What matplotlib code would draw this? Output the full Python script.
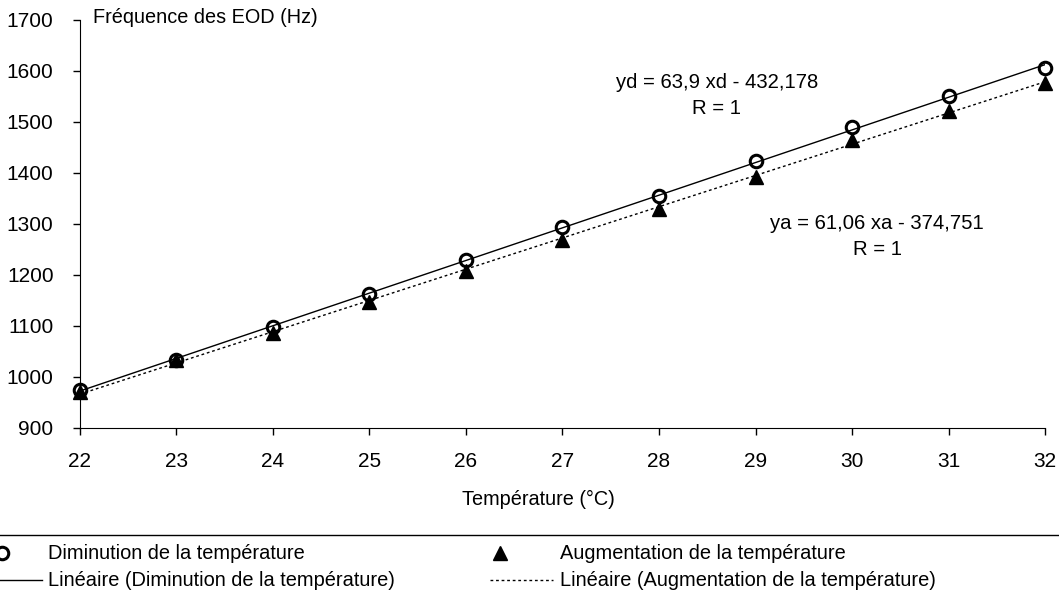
import matplotlib.pyplot as plt
import numpy as np
from matplotlib.lines import Line2D

plt.rcParams['font.family'] = ['Liberation Sans', 'DejaVu Sans']

temperature = np.arange(22, 33)
diminution = [975, 1033, 1098, 1163, 1230, 1295, 1355, 1423, 1490, 1550, 1605]
augmentation = [970, 1033, 1087, 1147, 1208, 1268, 1330, 1392, 1465, 1522, 1577]

eq_d = "yd = 63,9 xd - 432,178\nR = 1"
eq_a = "ya = 61,06 xa - 374,751\nR = 1"

fig = plt.figure(figsize=(10.59, 5.98), dpi=100)
ax = fig.add_axes([0.0755, 0.2843, 0.9113, 0.6823])

# droites de régression
pd_ = np.polyfit(temperature, diminution, 1)
pa_ = np.polyfit(temperature, augmentation, 1)
ax.plot(temperature, np.polyval(pd_, temperature), color='black', lw=1.0)
ax.plot(temperature, np.polyval(pa_, temperature), color='black', lw=1.0,
        linestyle=(0, (2, 2)))

ax.plot(temperature, augmentation, linestyle='none', marker='^', ms=10,
        color='black', clip_on=False)
ax.plot(temperature, diminution, linestyle='none', marker='o', ms=9,
        mfc='none', mec='black', mew=2.2, clip_on=False)

ax.set_xlim(22, 32)
ax.set_ylim(900, 1700)
ax.set_xticks(temperature)
ax.set_yticks(np.arange(900, 1701, 100))
ax.tick_params(axis='both', labelsize=15, length=5, width=1, direction='out')
ax.tick_params(axis='y', pad=14)
ax.tick_params(axis='x', pad=12)
for s in ['top', 'right']:
    ax.spines[s].set_visible(False)

ax.text(28.6, 1552, eq_d, ha='center', va='center', fontsize=14.6,
        linespacing=1.45)
ax.text(30.26, 1275, eq_a, ha='center', va='center', fontsize=14.6,
        linespacing=1.45)

fig.text(0.088, 0.970, "Fréquence des EOD (Hz)", fontsize=14.3, va='center')
fig.text(0.508, 0.164, "Température (°C)", fontsize=14.3, ha='center',
         va='center')

# légende
fig.add_artist(Line2D([0, 1], [0.105, 0.105], color='black', lw=1.0))
fig.add_artist(Line2D([0.002], [0.075], marker='o', ms=9, mfc='none',
                      mec='black', mew=2.2, linestyle='none'))
fig.text(0.045, 0.075, "Diminution de la température", fontsize=14.4,
         va='center')
fig.add_artist(Line2D([0.0, 0.040], [0.030, 0.030], color='black', lw=1.0))
fig.text(0.045, 0.030, "Linéaire (Diminution de la température)",
         fontsize=14.4, va='center')
fig.add_artist(Line2D([0.472], [0.075], marker='^', ms=10, color='black',
                      linestyle='none'))
fig.text(0.529, 0.075, "Augmentation de la température", fontsize=14.4,
         va='center')
fig.add_artist(Line2D([0.463, 0.522], [0.030, 0.030], color='black', lw=1.0,
                      linestyle=(0, (2, 2))))
fig.text(0.529, 0.030, "Linéaire (Augmentation de la température)",
         fontsize=14.4, va='center')

fig.savefig('out.png', dpi=100)
